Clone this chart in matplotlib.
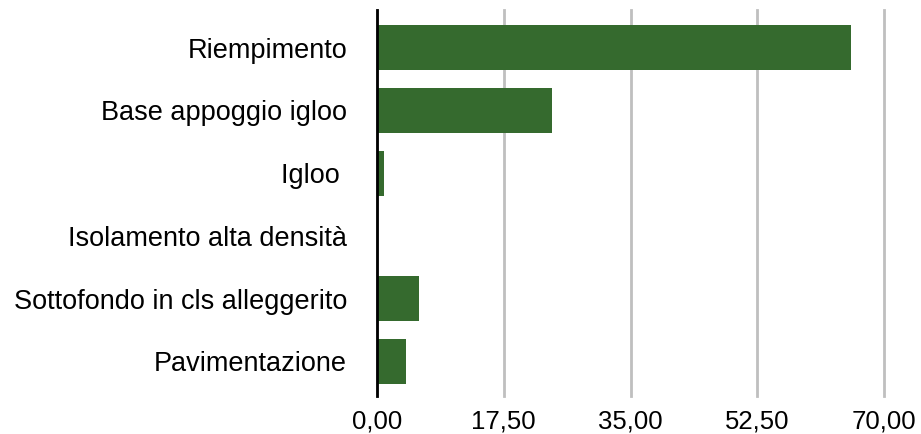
import matplotlib
matplotlib.use("Agg")
import matplotlib.pyplot as plt
from matplotlib.ticker import FuncFormatter

categories = ["Riempimento", "Base appoggio igloo", "Igloo ", "Isolamento alta densità",
              "Sottofondo in cls alleggerito", "Pavimentazione"]
values = [65.5, 24.2, 1.0, 0.1, 5.8, 4.0]
xticks = [0, 17.5, 35, 52.5, 70]

plt.rcParams['font.family'] = ['Liberation Sans', 'DejaVu Sans']

fig = plt.figure(figsize=(9.21, 4.34), dpi=100)
ax = fig.add_axes([377/921, 1 - 396/434, (884-377)/921, (396-10)/434])

y = list(range(len(categories)))
ax.barh(y, values, height=0.72, color="#356a2e", zorder=3)
ax.set_ylim(len(categories) - 0.45, -0.6)
ax.set_xlim(0, 70)
ax.set_xticks(xticks)
ax.xaxis.set_major_formatter(FuncFormatter(lambda v, p: f"{v:.2f}".replace(".", ",")))
ax.set_yticks(y)
ax.set_yticklabels(categories)
ax.tick_params(axis='both', length=0, colors="#000000")
ax.tick_params(axis='y', pad=21.5, labelsize=19.5)
ax.tick_params(axis='x', pad=10, labelsize=18.5)
ax.grid(axis='x', color="#bfbfbf", linewidth=2, zorder=0)
for gl in ax.get_xgridlines():
    gl.set_clip_on(False)
for s in ["top", "right", "bottom"]:
    ax.spines[s].set_visible(False)
ax.spines["left"].set_linewidth(2)
ax.spines["left"].set_color("black")
ax.spines["left"].set_zorder(4)

fig.savefig("out.png", dpi=100)
